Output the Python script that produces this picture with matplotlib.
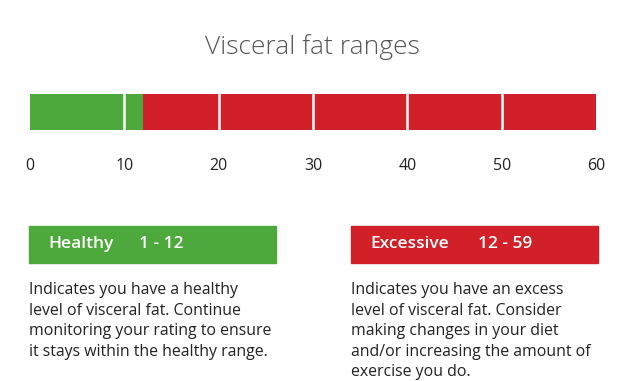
import matplotlib
matplotlib.use("Agg")
import matplotlib.pyplot as plt
from matplotlib.patches import Rectangle

W, H = 624, 381

title = "Visceral fat ranges"
seg_start = [0, 12]
seg_width = [12, 48]
seg_color = ["#4ea93d", "#d12027"]
dividers = [10, 20, 30, 40, 50]
ticks = [0, 10, 20, 30, 40, 50, 60]

box_labels = [("Healthy", "1 - 12"), ("Excessive", "12 - 59")]
box_colors = ["#4ea93d", "#d12027"]
box_text = [
    "Indicates you have a healthy\nlevel of visceral fat. Continue\nmonitoring your rating to ensure\nit stays within the healthy range.",
    "Indicates you have an excess\nlevel of visceral fat. Consider\nmaking changes in your diet\nand/or increasing the amount of\nexercise you do.",
]

plt.rcParams['font.family'] = ['Open Sans', 'DejaVu Sans']

fig = plt.figure(figsize=(W / 100, H / 100), dpi=100)
fig.patch.set_facecolor("white")


def fx(x):
    return x / W


def fy(y):
    return 1 - y / H


# the bar
ax = fig.add_axes([fx(30), fy(130), (596 - 30) / W, 36 / H])
ax.barh(0, seg_width, left=seg_start, color=seg_color, height=1)
for d in dividers:
    ax.axvline(d, color="white", lw=1.8)
ax.set_xlim(0, 60)
ax.set_ylim(-0.5, 0.5)
ax.set_yticks([])
ax.set_xticks(ticks)
ax.tick_params(axis="x", length=0, pad=20, labelsize=11.5, labelcolor="#222222")
for s in ax.spines.values():
    s.set_visible(False)

fig.text(0.5, fy(47), title, ha="center", va="center", fontsize=19,
         color="#555555", fontweight="light")

# legend boxes
box_x = [29, 351]
for i in range(2):
    x0 = box_x[i]
    fig.patches.append(Rectangle((fx(x0), fy(263)), 247 / W, 37 / H,
                                 transform=fig.transFigure, color=box_colors[i]))
    fig.text(fx(x0 + 19), fy(244), box_labels[i][0], ha="left", va="center",
             fontsize=12.5, color="white", fontweight="semibold")
    fig.text(fx(x0 + [110, 127][i]), fy(244), box_labels[i][1], ha="left",
             va="center", fontsize=12.5, color="white", fontweight="semibold")
    fig.text(fx(x0), fy(282), box_text[i], ha="left", va="top", fontsize=11.4,
             color="#222222", linespacing=1.38)

fig.savefig("out.png", dpi=100)
